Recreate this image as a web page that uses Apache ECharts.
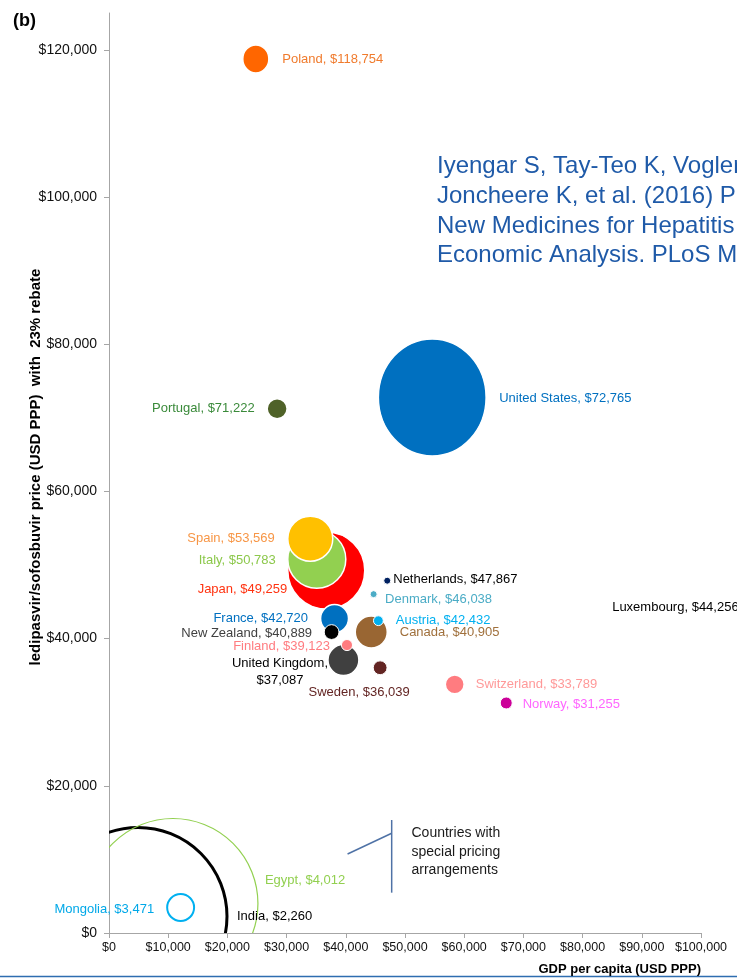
<!DOCTYPE html>
<html>
<head>
<meta charset="utf-8">
<script src="https://cdn.jsdelivr.net/npm/echarts@6/dist/echarts.min.js"></script>
<style>
html,body{margin:0;padding:0;background:#ffffff;}
#chart{width:737px;height:978px;}
</style>
</head>
<body>
<div id="chart"></div>
<script>
// ---------------- DATA ----------------
const countries = ['India','Egypt','Mongolia','United States','Poland','Portugal','Japan','Italy','Spain','France','New Zealand','United Kingdom','Finland','Canada','Austria','Netherlands','Denmark','Sweden','Switzerland','Norway','Luxembourg'];
const gdpPerCapita = [4900,10800,12100,54600,24800,28400,36700,35100,34000,38100,37600,39600,40200,44300,45500,47000,44700,45800,58400,67100,98000];
const price = [2260,4012,3471,72765,118754,71222,49259,50783,53569,42720,40889,37087,39123,40905,42432,47867,46038,36039,33789,31255,44256];
// relative bubble size (area, United States = 100)
const bubbleSize = [231.4,211.1,5.3,100,5.7,2.9,43.3,24.6,14.8,5.7,1.6,7.0,0.9,7.5,0.7,0.36,0.36,1.4,2.6,1.05,0];
const xTicks = [0,10000,20000,30000,40000,50000,60000,70000,80000,90000,100000];
const yTicks = [0,20000,40000,60000,80000,100000,120000];
const xAxisTitle = 'GDP per capita (USD PPP)';
const yAxisTitle = 'ledipasvir/sofosbuvir price (USD PPP)  with  23% rebate';
const panelTag = '(b)';
const citationLines = [
  'Iyengar S, Tay-Teo K, Vogler S, Beyer P, Wiktor S, de',
  'Joncheere K, et al. (2016) Prices, Costs, and Affordability of',
  'New Medicines for Hepatitis C in 30 Countries: An',
  'Economic Analysis. PLoS Med 13(5): e1002032.'
];
const annotationText = 'Countries with\nspecial pricing\narrangements';

// ---------------- STYLE ----------------
const FONT = '"Liberation Sans", Arial, sans-serif';
const R_REF = 58.5; // pixel radius for bubbleSize 100
const STYLE = {
  'India':          {stroke:'#000000', lw:3,   text:'#000000', dx:99,    dy:0.5,  align:'left'},
  'Egypt':          {stroke:'#92D050', lw:1.2, text:'#92D050', dx:92,    dy:-23,  align:'left'},
  'Mongolia':       {stroke:'#00B0F0', lw:2,   text:'#00A8E8', dx:-26.5, dy:2,    align:'right'},
  'United States':  {fill:'#0070C0', text:'#0070C0', dx:67,    dy:1,    align:'left', sx:0.92},
  'Poland':         {fill:'#FF6600', text:'#F07B2D', dx:26.5,  dy:0,    align:'left', sx:0.93},
  'Portugal':       {fill:'#4F6228', text:'#3A8A3A', dx:-22.5, dy:0,    align:'right'},
  'Japan':          {fill:'#FF0000', text:'#FF3311', dx:-39,   dy:18.6, align:'right'},
  'Italy':          {fill:'#92D050', text:'#8CC84B', dx:-41,   dy:1,    align:'right'},
  'Spain':          {fill:'#FFC000', text:'#F79646', dx:-35.5, dy:0,    align:'right'},
  'France':         {fill:'#0070C0', text:'#0070C0', dx:-26.5, dy:0,    align:'right'},
  'New Zealand':    {fill:'#000000', text:'#404040', dx:-19.5, dy:1,    align:'right'},
  'United Kingdom': {fill:'#404040', text:'#000000', dx:-63.5, dy:11.4, align:'center', wrap:true},
  'Finland':        {fill:'#FF7C80', text:'#FF7C80', dx:-17,   dy:1,    align:'right'},
  'Canada':         {fill:'#996633', text:'#A0703C', dx:28.5,  dy:0.5,  align:'left'},
  'Austria':        {fill:'#00B0F0', text:'#00B0F0', dx:17.5,  dy:0,    align:'left'},
  'Netherlands':    {fill:'#002060', text:'#000000', dx:6,     dy:-1.5, align:'left'},
  'Denmark':        {fill:'#4BACC6', text:'#4BACC6', dx:11.5,  dy:5,    align:'left'},
  'Sweden':         {fill:'#632523', text:'#632523', dx:-21,   dy:25,   align:'center'},
  'Switzerland':    {fill:'#FF7C80', text:'#FF9999', dx:21,    dy:0.5,  align:'left'},
  'Norway':         {fill:'#CC0099', text:'#FF66FF', dx:16.5,  dy:1,    align:'left'},
  'Luxembourg':     {fill:'none',    text:'#000000', dx:-77,   dy:0,    align:'left'}
};
// annotation placement (data coordinates)
const annotation = {vx:47750, vTop:15350, vBottom:5480, diagFrom:[40300,10730], diagTo:[47750,13550], textAt:[51100,14860]};

const money = v => '$' + Math.round(v).toLocaleString('en-US');
const seriesData = countries.map((c,i) => [gdpPerCapita[i], price[i], bubbleSize[i], i]);

function radiusOf(v){ return R_REF * Math.sqrt(v/100); }

function renderBubble(params, api){
  const i = api.value(3);
  const s = STYLE[countries[i]];
  const r = radiusOf(api.value(2));
  if (!(r > 0)) return null;
  const p = api.coord([api.value(0), api.value(1)]);
  const style = s.fill
    ? {fill:s.fill, stroke:'#ffffff', lineWidth: r < 8 ? 1 : 1.5}
    : {fill:'none', stroke:s.stroke, lineWidth:s.lw};
  return {type:'circle', x:p[0], y:p[1], scaleX:s.sx || 1, shape:{cx:0, cy:0, r:r}, style:style};
}

function renderLabel(params, api){
  const i = api.value(3);
  const s = STYLE[countries[i]];
  const p = api.coord([api.value(0), api.value(1)]);
  const txt = countries[i] + ',' + (s.wrap ? '\n' : ' ') + money(price[i]);
  return {type:'text', x:p[0] + s.dx, y:p[1] + s.dy,
    style:{text:txt, fill:s.text, font:'13px ' + FONT, align:s.align, verticalAlign:'middle', lineHeight:17}};
}

const chart = echarts.init(document.getElementById('chart'), null, {renderer:'canvas'});
chart.setOption({
  backgroundColor:'#ffffff',
  animation:false,
  grid:{left:109, right:36, top:13, bottom:45, containLabel:false, outerBoundsMode:'none'},
  xAxis:{
    type:'value', min:0, max:100000, interval:10000,
    splitLine:{show:false},
    axisLine:{show:true, lineStyle:{color:'#A6A6A6', width:1}},
    axisTick:{show:true, length:5, lineStyle:{color:'#A6A6A6'}},
    axisLabel:{margin:8, color:'#111111', fontSize:12.5, fontFamily:FONT, formatter:money, customValues:xTicks},
    name:xAxisTitle, nameLocation:'end', nameGap:0, nameMoveOverlap:false,
    nameTextStyle:{fontFamily:FONT, fontWeight:'bold', fontSize:13, color:'#000000', align:'right', verticalAlign:'top', padding:[30,0,0,0]}
  },
  yAxis:{
    type:'value', min:0, max:125000, interval:20000,
    splitLine:{show:false},
    axisLine:{show:true, lineStyle:{color:'#A6A6A6', width:1}},
    axisTick:{show:true, length:5, lineStyle:{color:'#A6A6A6'}, customValues:yTicks},
    axisLabel:{margin:12, color:'#111111', fontSize:14, fontFamily:FONT, formatter:money, customValues:yTicks},
    name:yAxisTitle, nameLocation:'middle', nameGap:66, nameRotate:90, nameMoveOverlap:false,
    nameTextStyle:{fontFamily:FONT, fontWeight:'bold', fontSize:15, color:'#000000', padding:[0,0,0,12]}
  },
  series:[
    {type:'custom', name:'bubbles', renderItem:renderBubble, data:seriesData, encode:{x:0, y:1}, clip:true, silent:true, z:2},
    {type:'custom', name:'labels', renderItem:renderLabel, data:seriesData, encode:{x:0, y:1}, clip:false, silent:true, z:3}
  ]
});

const P = v => chart.convertToPixel({gridIndex:0}, v);
const vt = P([annotation.vx, annotation.vTop]);
const vb = P([annotation.vx, annotation.vBottom]);
const d1 = P(annotation.diagFrom);
const d2 = P(annotation.diagTo);
const ta = P(annotation.textAt);

chart.setOption({
  graphic:[
    {type:'text', x:13, y:12, style:{text:panelTag, font:'bold 18px ' + FONT, fill:'#000000', verticalAlign:'top'}},
    {type:'text', x:437, y:152, style:{text:citationLines.join('\n'), font:'24px ' + FONT, fill:'#1F5AA8', lineHeight:29.6, verticalAlign:'top'}},
    {type:'line', shape:{x1:vt[0], y1:vt[1], x2:vb[0], y2:vb[1]}, style:{stroke:'#4F72A6', lineWidth:1.5}},
    {type:'line', shape:{x1:d1[0], y1:d1[1], x2:d2[0], y2:d2[1]}, style:{stroke:'#4F72A6', lineWidth:1.5}},
    {type:'text', x:ta[0], y:ta[1], style:{text:annotationText, font:'14px ' + FONT, fill:'#1a1a1a', lineHeight:18.8, verticalAlign:'top'}},
    {type:'line', shape:{x1:0, y1:976.5, x2:737, y2:976.5}, style:{stroke:'#2E6DB0', lineWidth:1.5}}
  ]
});
</script>
</body>
</html>
